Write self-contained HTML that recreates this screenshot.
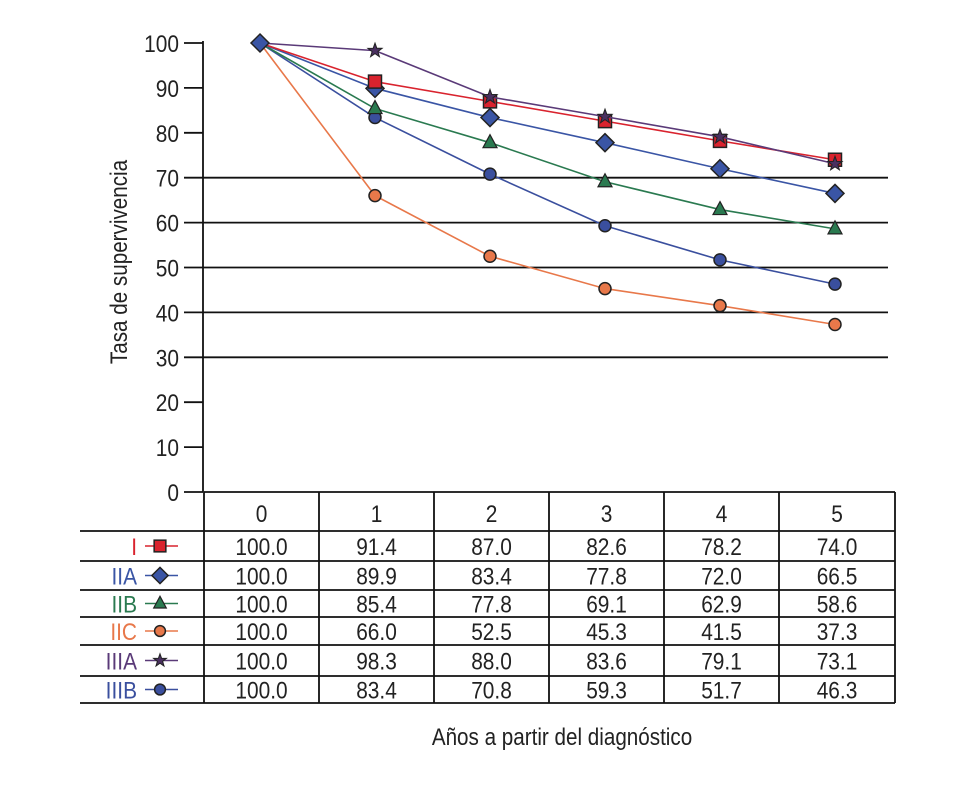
<!DOCTYPE html>
<html><head><meta charset="utf-8"><style>
body{margin:0;background:#fff;}
svg text{font-family:"Liberation Sans",sans-serif;}
</style></head><body>
<svg id="chart" width="958" height="800" xmlns="http://www.w3.org/2000/svg">
<g id="grid"></g>
<g id="axis"></g>
<text x="0" y="0" transform="translate(127,262) rotate(-90) scale(0.86,1)" text-anchor="middle" font-size="24" fill="#222">Tasa de supervivencia</text>
<g id="series"></g>
<g id="table"></g>
<text x="0" y="0" transform="translate(562,745) scale(0.86,1)" text-anchor="middle" font-size="24" fill="#222">Años a partir del diagnóstico</text>
</svg>
<script>
const years = [0,1,2,3,4,5];
const yTicks = [0,10,20,30,40,50,60,70,80,90,100];
const gridValues = [30,40,50,60,70];
const seriesNames = ["I","IIA","IIB","IIC","IIIA","IIIB"];
const sI = [100.0,91.4,87.0,82.6,78.2,74.0];
const sIIA = [100.0,89.9,83.4,77.8,72.0,66.5];
const sIIB = [100.0,85.4,77.8,69.1,62.9,58.6];
const sIIC = [100.0,66.0,52.5,45.3,41.5,37.3];
const sIIIA = [100.0,98.3,88.0,83.6,79.1,73.1];
const sIIIB = [100.0,83.4,70.8,59.3,51.7,46.3];
const seriesValues = [sI,sIIA,sIIB,sIIC,sIIIA,sIIIB];
const colors = ["#d9232e","#3a55a5","#2a7a50","#e8784a","#5a3a78","#3a4f9e"];
const markers = ["square","diamond","triangle","circle","star","circle"];

const NS="http://www.w3.org/2000/svg";
function el(t,a,p){const e=document.createElementNS(NS,t);for(const k in a)e.setAttribute(k,a[k]);p.appendChild(e);return e;}
function txt(x,y,anchor,size,fill,p,s){const t=el('text',{x:0,y:0,transform:`translate(${x},${y}) scale(0.87,1)`,'text-anchor':anchor,'font-size':size,fill:fill},p);t.textContent=s;return t;}
const yS=v=>492-v*4.49;
const xS=i=>260+i*115;
const grid=document.getElementById('grid'),axis=document.getElementById('axis'),ser=document.getElementById('series'),tab=document.getElementById('table');

gridValues.forEach(v=>{const l=el('line',{x1:203,x2:888,y1:yS(v),y2:yS(v),stroke:'#111','stroke-width':1.8},grid);

});
el('line',{x1:203,x2:203,y1:yS(100)-2,y2:492,stroke:'#111','stroke-width':1.8},axis);
yTicks.forEach(v=>{el('line',{x1:184,x2:203,y1:yS(v),y2:yS(v),stroke:'#111','stroke-width':1.8},axis);
const t=txt(179,yS(v)+9,'end',24,'#222',axis,v);

});

function marker(type,x,y,c,g,s){
 s=s||1;
 if(type==='square')return el('rect',{x:x-6.5*s,y:y-6.5*s,width:13*s,height:13*s,fill:c,stroke:'#222','stroke-width':1.5},g);
 if(type==='diamond')return el('polygon',{points:`${x},${y-9*s} ${x+9*s},${y} ${x},${y+9*s} ${x-9*s},${y}`,fill:c,stroke:'#222','stroke-width':1.5},g);
 if(type==='triangle')return el('polygon',{points:`${x},${y-8*s} ${x+7*s},${y+5*s} ${x-7*s},${y+5*s}`,fill:c,stroke:'#222','stroke-width':1.2},g);
 if(type==='circle')return el('circle',{cx:x,cy:y,r:6*s,fill:c,stroke:'#222','stroke-width':1.5},g);
 let p=[];for(let i=0;i<10;i++){const r=(i%2?3:7.5)*s,a=-Math.PI/2+i*Math.PI/5;p.push((x+r*Math.cos(a)).toFixed(1)+','+(y+r*Math.sin(a)).toFixed(1));}
 return el('polygon',{points:p.join(' '),fill:'#4a3060',stroke:'#222','stroke-width':1},g);
}
const drawOrder=[3,5,2,1,0,4];
drawOrder.forEach(si=>{
 const vals=seriesValues[si];
 const g=el('g',{},ser);
 
 
 el('polyline',{points:vals.map((v,i)=>xS(i)+','+yS(v)).join(' '),fill:'none',stroke:colors[si],'stroke-width':1.6},g);
 vals.forEach((v,i)=>{if(i===0)return;const m=marker(markers[si],xS(i),yS(v),colors[si],g);
 
 });
});
const m0=marker('diamond',xS(0),yS(100),'#3a55a5',ser);



// table
const rowY=[492,531,561,590,617,645,676,703];
const colX=[204,319,434,549,664,779,895];
el('line',{x1:204,x2:895,y1:492,y2:492,stroke:'#111','stroke-width':1.8},tab);
for(let r=1;r<rowY.length;r++)el('line',{x1:80,x2:895,y1:rowY[r],y2:rowY[r],stroke:'#111','stroke-width':1.8},tab);
colX.forEach((x,i)=>el('line',{x1:x,x2:x,y1:492,y2:703,stroke:'#111','stroke-width':1.8},tab));
years.forEach((yv,i)=>{const t=txt((colX[i]+colX[i+1])/2,522,'middle',24,'#222',tab,yv);

});
seriesNames.forEach((n,si)=>{
 const cy=(rowY[si+1]+rowY[si+2])/2;
 const lab=txt(137,cy+9,'end',24,colors[si],tab,n);
 
 
 el('line',{x1:145,x2:178,y1:cy,y2:cy,stroke:colors[si],'stroke-width':1.6},tab);
 const mk=marker(markers[si],160,cy,colors[si],tab,0.9);
 
 
 seriesValues[si].forEach((v,i)=>{const t=txt((colX[i]+colX[i+1])/2,cy+9,'middle',24,'#222',tab,v.toFixed(1));
 
 });
});
</script>
</body></html>
